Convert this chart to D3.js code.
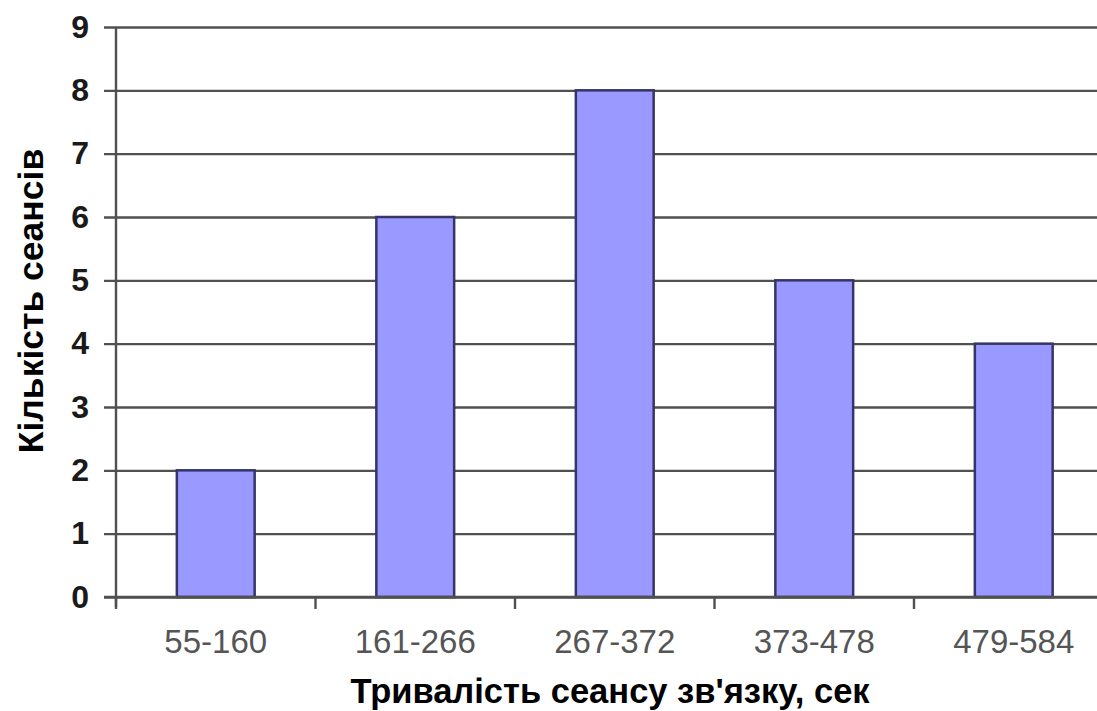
<!DOCTYPE html>
<html>
<head>
<meta charset="utf-8">
<script src="https://cdn.jsdelivr.net/npm/d3@7/dist/d3.min.js"></script>
<style>
  html, body { margin: 0; padding: 0; background: #fff; }
  svg { display: block; }
</style>
</head>
<body>
<svg id="chart" width="1097" height="711"></svg>
<script>
// Duration ranges (seconds) and number of sessions in each
const categories = ["55-160", "161-266", "267-372", "373-478", "479-584"];
const sessions = [2, 6, 8, 5, 4];
const yTicks = [0, 1, 2, 3, 4, 5, 6, 7, 8, 9];
const xTitle = "Тривалість сеансу зв'язку, сек";
const yTitle = "Кількість сеансів";

const svg = d3.select("#chart");
const plotLeft = 116, plotRight = 1113.5, plotTop = 27, plotBottom = 597;

const x = d3.scaleBand()
  .domain(categories)
  .range([plotLeft, plotRight])
  .paddingInner(0.61)
  .paddingOuter(0.305);

const y = d3.scaleLinear().domain([0, 9]).range([plotBottom, plotTop]);

const font = "'Liberation Sans', Arial, sans-serif";

// horizontal gridlines with outward ticks
const yAxis = svg.append("g")
  .attr("transform", `translate(${plotLeft},0)`)
  .call(d3.axisLeft(y).tickValues(yTicks).tickSize(-(1097 - plotLeft)).tickSizeOuter(0).tickPadding(27).tickFormat(d3.format("d")));
yAxis.select(".domain").remove();
yAxis.selectAll(".tick line")
  .attr("x1", -12)
  .attr("stroke", "#505050")
  .attr("stroke-width", 2.4);
yAxis.selectAll(".tick text")
  .attr("fill", "#1a1a1a")
  .style("font-family", font)
  .style("font-weight", "bold")
  .style("font-size", "32px");

// bars
svg.append("g").selectAll("rect")
  .data(categories)
  .join("rect")
  .attr("x", d => x(d))
  .attr("width", x.bandwidth())
  .attr("y", (d, i) => y(sessions[i]))
  .attr("height", (d, i) => y(0) - y(sessions[i]))
  .attr("fill", "#9999ff")
  .attr("stroke", "#353568")
  .attr("stroke-width", 2.5);

// vertical axis line
svg.append("line")
  .attr("x1", plotLeft).attr("x2", plotLeft)
  .attr("y1", plotTop).attr("y2", plotBottom + 10)
  .attr("stroke", "#505050")
  .attr("stroke-width", 2.4);

// category axis: ticks sit on band boundaries
const step = x.step();
const boundaries = d3.range(categories.length + 1).map(i => plotLeft + i * step);
const xAxisG = svg.append("g");
xAxisG.append("line")
  .attr("x1", plotLeft - 12).attr("x2", 1097)
  .attr("y1", plotBottom).attr("y2", plotBottom)
  .attr("stroke", "#505050").attr("stroke-width", 2.4);
xAxisG.selectAll("line.tk")
  .data(boundaries)
  .join("line")
  .attr("class", "tk")
  .attr("x1", d => d).attr("x2", d => d)
  .attr("y1", plotBottom).attr("y2", plotBottom + 12)
  .attr("stroke", "#505050").attr("stroke-width", 2.4);
xAxisG.selectAll("text")
  .data(categories)
  .join("text")
  .attr("x", d => x(d) + x.bandwidth() / 2)
  .attr("y", 653)
  .attr("text-anchor", "middle")
  .attr("fill", "#555")
  .style("font-family", font)
  .style("font-size", "33px")
  .text(d => d);

// axis titles
svg.append("text")
  .attr("x", 610)
  .attr("y", 703)
  .attr("text-anchor", "middle")
  .attr("fill", "#000")
  .style("font-family", font)
  .style("font-weight", "bold")
  .style("font-size", "34.5px")
  .text(xTitle);

svg.append("text")
  .attr("transform", "translate(43,301) rotate(-90)")
  .attr("text-anchor", "middle")
  .attr("fill", "#000")
  .style("font-family", font)
  .style("font-weight", "bold")
  .style("font-size", "35.5px")
  .text(yTitle);
</script>
</body>
</html>
